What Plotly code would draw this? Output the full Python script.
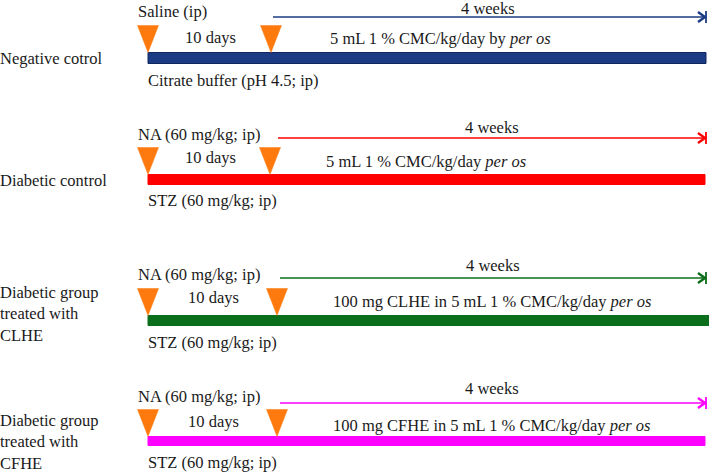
import plotly.graph_objects as go

# ---- content ----
groups = ["Negative cotrol", "Diabetic control",
          "Diabetic group<br>treated with<br>CLHE", "Diabetic group<br>treated with<br>CFHE"]
colors = ["#1C3B85", "#FF0000", "#0B6E1A", "#FF00FF"]
edge_colors = ["#10275E", "#FF0000", "#0B6E1A", "#FF00FF"]
above_bar = ["Saline (ip)", "NA (60 mg/kg; ip)", "NA (60 mg/kg; ip)", "NA (60 mg/kg; ip)"]
below_bar = ["Citrate buffer (pH 4.5; ip)", "STZ (60 mg/kg; ip)",
             "STZ (60 mg/kg; ip)", "STZ (60 mg/kg; ip)"]
treatments = ["5 mL 1 % CMC/kg/day by <i>per os</i>",
              "5 mL 1 % CMC/kg/day <i>per os</i>",
              "100 mg CLHE in 5 mL 1 % CMC/kg/day <i>per os</i>",
              "100 mg CFHE in 5 mL 1 % CMC/kg/day <i>per os</i>"]
interval_label = "10 days"
duration_label = "4 weeks"

# ---- layout geometry (pixel-like schematic coordinates) ----
W, H = 709, 474
bar_y = [58, 179.5, 320.5, 441]
bar_half = [5.5, 5, 5, 4.5]
bar_x0 = 148
bar_x1 = [706, 705, 712, 705]
tri2_x = [271, 270, 277, 277]
tri_h = 27
tri_w = 21
arrow_y = [17, 138, 278, 403]
arrow_x0 = [273, 278, 280, 280]
arrow_x1 = 706
weeks_y = [8, 127, 265, 388]
weeks_x = [488, 492, 493, 492]
days_y = [37, 157, 297, 421]
treat_y = [38, 161, 301, 425]
treat_x = [440, 426, 492, 492]
above_y = [11, 134, 274, 396]
below_y = [80, 200, 342, 462]
label_y = [58, 180, 314, 442]

FONT = "Liberation Serif"
FS = 16.5
PAD = 3
orange = "#FF7A0E"

fig = go.Figure()
shapes = []
ann = []

def text(x, y, s, xanchor="left"):
    ann.append(dict(x=x, y=y, xref="x", yref="y",
                    xshift=-PAD if xanchor == "left" else 0,
                    text=s, showarrow=False,
                    xanchor=xanchor, yanchor="middle", align="left",
                    font=dict(family=FONT, size=FS, color="#1a1a1a")))

for i in range(len(groups)):
    c = colors[i]
    yb = bar_y[i]
    # bar
    shapes.append(dict(type="rect", xref="x", yref="y",
                       x0=bar_x0, x1=bar_x1[i], y0=yb - bar_half[i], y1=yb + bar_half[i],
                       fillcolor=c, line=dict(color=edge_colors[i], width=1), layer="above"))
    # triangles (tips touching bar top)
    tip = yb - bar_half[i]
    for tx in (bar_x0, tri2_x[i]):
        shapes.append(dict(type="path", xref="x", yref="y",
                           path=f"M{tx - tri_w/2},{tip - tri_h} L{tx + tri_w/2},{tip - tri_h} L{tx},{tip} Z",
                           fillcolor=orange, line=dict(color=orange, width=0.5), layer="above"))
    # arrow
    ay = arrow_y[i]
    shapes.append(dict(type="line", xref="x", yref="y", x0=arrow_x0[i], x1=arrow_x1 - 1,
                       y0=ay, y1=ay, line=dict(color=c, width=1.6)))
    shapes.append(dict(type="path", xref="x", yref="y",
                       path=f"M{arrow_x1 - 8},{ay - 5} L{arrow_x1 - 1},{ay} L{arrow_x1 - 8},{ay + 5}",
                       line=dict(color=c, width=2.4)))
    shapes.append(dict(type="line", xref="x", yref="y", x0=arrow_x1, x1=arrow_x1,
                       y0=ay - 6, y1=ay + 6, line=dict(color=c, width=1.8)))
    # texts
    text(0.5, label_y[i], groups[i])
    text(139, above_y[i], above_bar[i])
    text(149, below_y[i], below_bar[i])
    text(weeks_x[i], weeks_y[i], duration_label, "center")
    text(210 if i < 2 else 213, days_y[i], interval_label, "center")
    text(treat_x[i], treat_y[i], treatments[i], "center")

fig.update_layout(
    width=W, height=H, margin=dict(l=0, r=0, t=0, b=0, autoexpand=False),
    paper_bgcolor="white", plot_bgcolor="white",
    xaxis=dict(range=[0, W], visible=False, fixedrange=True),
    yaxis=dict(range=[H, 0], visible=False, fixedrange=True),
    shapes=shapes, annotations=ann, showlegend=False,
)
fig.write_html("out.html", config={"displayModeBar": False},
               post_script="document.body.style.margin='0';document.body.style.overflow='hidden';")
